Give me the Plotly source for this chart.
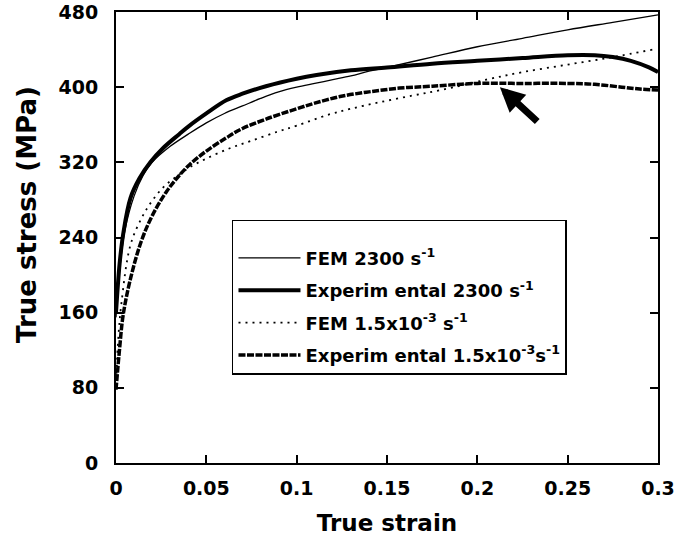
import plotly.graph_objects as go

# ---- data ----
strain_fem_hi = [0.0, 0.002, 0.005, 0.01, 0.015, 0.02, 0.03, 0.04, 0.05, 0.06, 0.07, 0.08,
                 0.09, 0.1, 0.11, 0.12, 0.13, 0.14, 0.15, 0.175, 0.2, 0.225, 0.25, 0.275, 0.3]
stress_fem_hi = [155, 205, 248, 284, 306, 320, 337, 350, 362, 372, 380, 388,
                 395, 400, 404, 408, 412, 417, 421, 432, 443, 452, 461, 469, 477]

strain_exp_hi = [0.0, 0.002, 0.004, 0.008, 0.013, 0.019, 0.026, 0.035, 0.04, 0.05, 0.061, 0.07,
                 0.083, 0.1, 0.111, 0.13, 0.15, 0.175, 0.2, 0.225, 0.25, 0.265, 0.275, 0.285,
                 0.295, 0.3]
stress_exp_hi = [160, 212, 244, 282, 303, 320, 335, 350, 358, 372, 386, 393,
                 401, 409, 413, 418, 421, 425, 428, 431, 434, 434, 432, 428,
                 421, 416]

strain_fem_lo = [0.0, 0.001, 0.003, 0.008, 0.014, 0.02, 0.027, 0.035, 0.041, 0.05, 0.063, 0.075,
                 0.09, 0.1, 0.118, 0.13, 0.146, 0.164, 0.18, 0.205, 0.225, 0.25, 0.275, 0.297]
stress_fem_lo = [80, 125, 170, 232, 260, 279, 295, 307, 315, 324, 335, 343,
                 353, 359, 371, 377, 384, 391, 397, 408, 416, 424, 432, 440]

strain_exp_lo = [0.0, 0.002, 0.004, 0.008, 0.014, 0.02, 0.028, 0.035, 0.041, 0.05, 0.061, 0.07,
                 0.083, 0.1, 0.11, 0.124, 0.14, 0.157, 0.175, 0.2, 0.225, 0.25, 0.265,
                 0.28, 0.29, 0.3]
stress_exp_lo = [78, 122, 158, 196, 236, 263, 289, 306, 318, 332, 346, 356,
                 366, 377, 383, 390, 395, 399, 401, 404, 404, 404, 403,
                 400, 398, 397]

x_ticks = [0, 0.05, 0.1, 0.15, 0.2, 0.25, 0.3]
x_tick_labels = ["0", "0.05", "0.1", "0.15", "0.2", "0.25", "0.3"]
y_ticks = [0, 80, 160, 240, 320, 400, 480]

arrow_tip = (0.2125, 400)
arrow_tail = (0.234, 362)

FONT = "DejaVu Sans"

fig = go.Figure()
fig.add_trace(go.Scatter(x=strain_fem_hi, y=stress_fem_hi, mode="lines",
                         name="FEM 2300 s<sup>-1</sup>", legendgroup="a",
                         line=dict(color="black", width=1.3, shape="spline")))
fig.add_trace(go.Scatter(x=strain_exp_hi, y=stress_exp_hi, mode="lines",
                         name="Experim ental 2300 s<sup>-1</sup>", legendgroup="b",
                         line=dict(color="black", width=4, shape="spline")))
fig.add_trace(go.Scatter(x=strain_fem_lo, y=stress_fem_lo, mode="lines",
                         name="FEM 1.5x10<sup>-3</sup> s<sup>-1</sup>", legendgroup="c",
                         line=dict(color="black", width=1.8, dash="2px,5px", shape="spline")))
fig.add_trace(go.Scatter(x=strain_exp_lo, y=stress_exp_lo, mode="lines",
                         name="Experim ental 1.5x10<sup>-3</sup>s<sup>-1</sup>", legendgroup="d",
                         line=dict(color="black", width=3.5, dash="7px,1.5px", shape="spline")))

fig.add_annotation(x=arrow_tip[0], y=arrow_tip[1], ax=arrow_tail[0], ay=arrow_tail[1],
                   xref="x", yref="y", axref="x", ayref="y", text="", showarrow=True,
                   arrowhead=2, arrowsize=0.7, arrowwidth=7, arrowcolor="black", standoff=0)

# y-axis title (placed as in the reference, slightly above the plot centre)
fig.add_annotation(text="True stress (MPa)", textangle=-90, showarrow=False,
                   xref="paper", yref="paper", x=0, y=0.55, xanchor="center", yanchor="middle",
                   xshift=-89,
                   font=dict(family=FONT, size=26, color="black", weight="bold"))

axis_common = dict(showline=True, linecolor="black", linewidth=2, mirror="ticks",
                   ticks="inside", ticklen=8, tickwidth=1.5, tickcolor="black",
                   showgrid=False, zeroline=False, automargin=False,
                   tickfont=dict(family=FONT, size=19, color="black", weight="bold"))

fig.update_xaxes(range=[0, 0.3], tickvals=x_ticks, ticktext=x_tick_labels,
                 ticklabelstandoff=7,
                 title=dict(text="True strain", standoff=17,
                            font=dict(family=FONT, size=23, color="black", weight="bold")),
                 **axis_common)
fig.update_yaxes(range=[0, 480], tickvals=y_ticks, ticklabelstandoff=12,
                 **axis_common)

fig.update_layout(
    width=685, height=540,
    margin=dict(l=116, r=27, t=12, b=77),
    paper_bgcolor="white", plot_bgcolor="white",
    font=dict(family=FONT, color="black"),
    legend=dict(x=0.214, y=0.539, xanchor="left", yanchor="top",
                bgcolor="white", bordercolor="black", borderwidth=1.5,
                tracegroupgap=6, itemwidth=62,
                title=dict(text=" ", font=dict(size=14)),
                font=dict(family=FONT, size=18, color="black", weight="bold")),
)

fig.write_html("out.html")
